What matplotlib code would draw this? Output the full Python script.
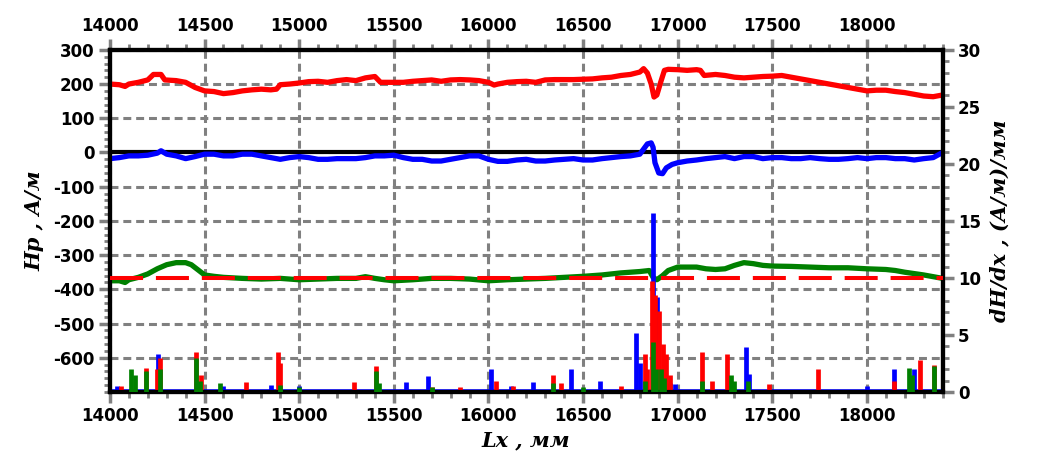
import numpy as np
import matplotlib.pyplot as plt
from matplotlib.ticker import MultipleLocator

plt.rcParams['font.family'] = ['DejaVu Sans']
plt.rcParams['font.weight'] = 'bold'
plt.rcParams['axes.unicode_minus'] = False

# Hp, red (left axis)
red_x = [14000, 14050, 14080, 14100, 14150, 14200, 14230, 14270, 14290, 14350, 14400, 14450,
         14500, 14550, 14600, 14650, 14700, 14750, 14800, 14850, 14880, 14900, 14950, 15000,
         15050, 15100, 15150, 15200, 15250, 15300, 15350, 15400, 15430, 15500, 15550, 15600,
         15650, 15700, 15750, 15800, 15850, 15900, 15950, 16000, 16030, 16050, 16100, 16150,
         16200, 16250, 16300, 16350, 16400, 16450, 16500, 16550, 16600, 16650, 16700, 16750,
         16800, 16820, 16840, 16860, 16875, 16890, 16910, 16930, 16950, 17000, 17050, 17100,
         17120, 17140, 17200, 17250, 17300, 17350, 17400, 17450, 17500, 17550, 17600, 17650,
         17700, 17750, 17800, 17850, 17900, 17950, 18000, 18050, 18100, 18150, 18200, 18250,
         18300, 18350, 18400]
red_y = [200, 198, 193, 200, 205, 212, 228, 228, 212, 210, 205, 190,
         180, 178, 172, 175, 180, 183, 185, 183, 185, 198, 200, 203,
         207, 208, 205, 210, 213, 210, 218, 222, 205, 205, 205, 208,
         210, 212, 208, 212, 213, 212, 210, 205, 197, 200, 205, 207,
         208, 205, 212, 213, 213, 213, 214, 215, 218, 220, 225, 228,
         235, 245, 232, 200, 162, 168, 205, 240, 243, 242, 240, 242,
         240, 225, 228, 225, 220, 218, 220, 222, 223, 225, 220, 215,
         210, 205, 200, 195, 190, 185, 180, 182, 182, 178, 175, 170,
         165, 163, 168]

# Hp, blue (left axis)
blue_x = [14000, 14050, 14100, 14150, 14200, 14250, 14270, 14300, 14350, 14400, 14450, 14500,
          14550, 14600, 14650, 14700, 14750, 14800, 14850, 14900, 14950, 15000, 15050, 15100,
          15150, 15200, 15250, 15300, 15350, 15400, 15450, 15500, 15550, 15600, 15650, 15700,
          15750, 15800, 15850, 15900, 15950, 16000, 16050, 16100, 16150, 16200, 16250, 16300,
          16350, 16400, 16450, 16500, 16550, 16600, 16650, 16700, 16750, 16800, 16820, 16840,
          16860, 16870, 16880, 16900, 16920, 16940, 16970, 17000, 17050, 17100, 17150, 17200,
          17250, 17300, 17350, 17400, 17450, 17500, 17550, 17600, 17650, 17700, 17750, 17800,
          17850, 17900, 17950, 18000, 18050, 18100, 18150, 18200, 18250, 18300, 18350, 18400]
blue_y = [-18, -15, -10, -10, -8, -2, 5, -5, -10, -18, -12, -5,
          -5, -10, -10, -5, -5, -10, -15, -20, -15, -12, -15, -20,
          -20, -18, -18, -18, -15, -10, -10, -8, -15, -20, -20, -25,
          -25, -20, -15, -10, -10, -20, -26, -26, -22, -20, -25, -25,
          -22, -20, -18, -22, -22, -18, -15, -12, -10, -5, 10, 25,
          28, 15, -30, -60, -62, -45, -35, -30, -25, -22, -18, -15,
          -12, -18, -12, -12, -18, -15, -15, -18, -18, -15, -18, -20,
          -20, -18, -15, -18, -15, -15, -18, -18, -22, -18, -15, 0]

# Hp, green (left axis)
green_x = [14000, 14050, 14080, 14100, 14150, 14200, 14250, 14300, 14350, 14400, 14430, 14470,
           14500, 14550, 14600, 14700, 14800, 14900, 15000, 15100, 15200, 15300, 15350, 15400,
           15450, 15500, 15600, 15700, 15800, 15900, 16000, 16100, 16200, 16300, 16400, 16500,
           16600, 16700, 16800, 16850, 16870, 16890, 16920, 16950, 17000, 17050, 17100, 17150,
           17200, 17250, 17300, 17350, 17400, 17450, 17500, 17600, 17700, 17800, 17900, 18000,
           18100, 18150, 18200, 18300, 18400]
green_y = [-375, -375, -380, -372, -365, -355, -340, -328, -322, -322, -328, -345,
           -358, -362, -365, -368, -370, -368, -372, -370, -368, -368, -363, -368,
           -372, -375, -372, -368, -368, -370, -375, -372, -370, -368, -365, -362,
           -358, -352, -348, -345, -365, -372, -360, -345, -335, -335, -335, -340,
           -342, -340, -330, -322, -325, -330, -332, -333, -335, -337, -337, -340,
           -342, -345, -350, -358, -368]

# dH/dx threshold (right axis)
threshold = 10

# dH/dx spikes (right axis)
blue_spk_x = [14040, 14255, 14600, 14850, 15000, 15565, 15680, 16014, 16120, 16233, 16437, 16590,
              16780, 16800, 16870, 16890, 16960, 16985, 17360, 17375, 18000, 18142, 18250]
blue_spk_h = [0.5, 3.3, 0.5, 0.6, 0.5, 0.9, 1.4, 2.0, 0.5, 0.9, 2.0, 1.0,
              5.2, 2.5, 15.7, 8.3, 0.8, 0.7, 3.9, 1.6, 0.5, 2.0, 2.0]

red_spk_x = [14060, 14193, 14250, 14262, 14457, 14480, 14720, 14888, 14900, 15290, 15407, 15700,
             15850, 16040, 16130, 16340, 16384, 16700, 16826, 16840, 16865, 16880, 16900, 16920,
             16940, 16960, 17130, 17180, 17263, 17480, 17742, 18142, 18283, 18352]
red_spk_h = [0.5, 2.1, 2.0, 3.0, 3.5, 1.5, 0.9, 3.5, 2.5, 0.9, 2.3, 0.4,
             0.4, 1.0, 0.5, 1.5, 0.8, 0.5, 3.3, 2.0, 9.7, 8.5, 7.1, 4.2,
             3.3, 1.5, 3.5, 1.0, 3.3, 0.7, 2.0, 1.0, 2.8, 2.4]

green_spk_x = [14114, 14135, 14193, 14262, 14457, 14475, 14580, 14900, 15000, 15407, 15420, 15700,
               16340, 16500, 16826, 16870, 16885, 16910, 16930, 17130, 17280, 17300, 17370, 18222,
               18240, 18355]
green_spk_h = [2.0, 1.5, 1.8, 2.0, 3.0, 1.0, 0.8, 0.6, 0.4, 1.8, 0.8, 0.4,
               0.8, 0.4, 1.0, 4.4, 2.0, 2.0, 1.2, 1.0, 1.5, 1.0, 1.0, 2.1,
               1.5, 2.3]


fig = plt.figure(figsize=(10.37, 4.70), dpi=100)
ax = fig.add_axes([0.106, 0.166, 0.803, 0.728])
ax2 = ax.twinx()

ax.plot(red_x, red_y, color='red', lw=3.8, zorder=3)
ax.plot(blue_x, blue_y, color='blue', lw=3.8, zorder=3)
ax.plot(green_x, green_y, color='green', lw=3.8, zorder=3)
ax.axhline(0, color='black', lw=3, zorder=2)

# blue dH/dx: baseline along zero plus its spikes
ax2.plot([blue_x[0], blue_x[-1]], [0, 0], color='blue', lw=4, zorder=1)
ax2.vlines(blue_spk_x, 0, blue_spk_h, colors='blue', lw=3.4, zorder=1)
ax2.vlines(red_spk_x, 0, red_spk_h, colors='red', lw=3.4, zorder=2)
ax2.vlines(green_spk_x, 0, green_spk_h, colors='green', lw=3.4, zorder=3)
ax2.plot([red_x[0], red_x[-1]], [threshold, threshold], color='red', lw=2.9,
         ls=(0, (8.2, 3.2)), zorder=4)

ax.set_xlim(14000, 18400)
ax.set_ylim(-700, 300)
ax2.set_ylim(0, 30)

ax.xaxis.set_major_locator(MultipleLocator(500))
ax.xaxis.set_minor_locator(MultipleLocator(100))
ax.yaxis.set_major_locator(MultipleLocator(100))
ax.yaxis.set_minor_locator(MultipleLocator(20))
ax2.yaxis.set_major_locator(MultipleLocator(5))
ax2.yaxis.set_minor_locator(MultipleLocator(1))
ax.set_yticks(np.arange(-600, 301, 100))

ax.grid(True, which='major', color='gray', ls=(0, (2.6, 1.6)), lw=2.2, zorder=0)
ax.set_axisbelow(True)

for a in (ax, ax2):
    a.tick_params(which='major', length=8, width=2.5, color='gray', labelsize=12, pad=3)
    a.tick_params(which='minor', length=4, width=2, color='gray')
    for s in a.spines.values():
        s.set_linewidth(3)
        s.set_color('black')
ax.tick_params(axis='x', which='both', top=True, labeltop=True)

lab_font = dict(family='DejaVu Serif', style='italic', weight='bold', size=15)
ax.set_xlabel('Lх , мм', fontdict=lab_font, labelpad=4)
ax.set_ylabel('Нр , А/м', fontdict=lab_font, labelpad=6)
ax2.set_ylabel('dН/dх , (А/м)/мм', fontdict=lab_font, labelpad=6)

fig.savefig('out.png', dpi=100)
